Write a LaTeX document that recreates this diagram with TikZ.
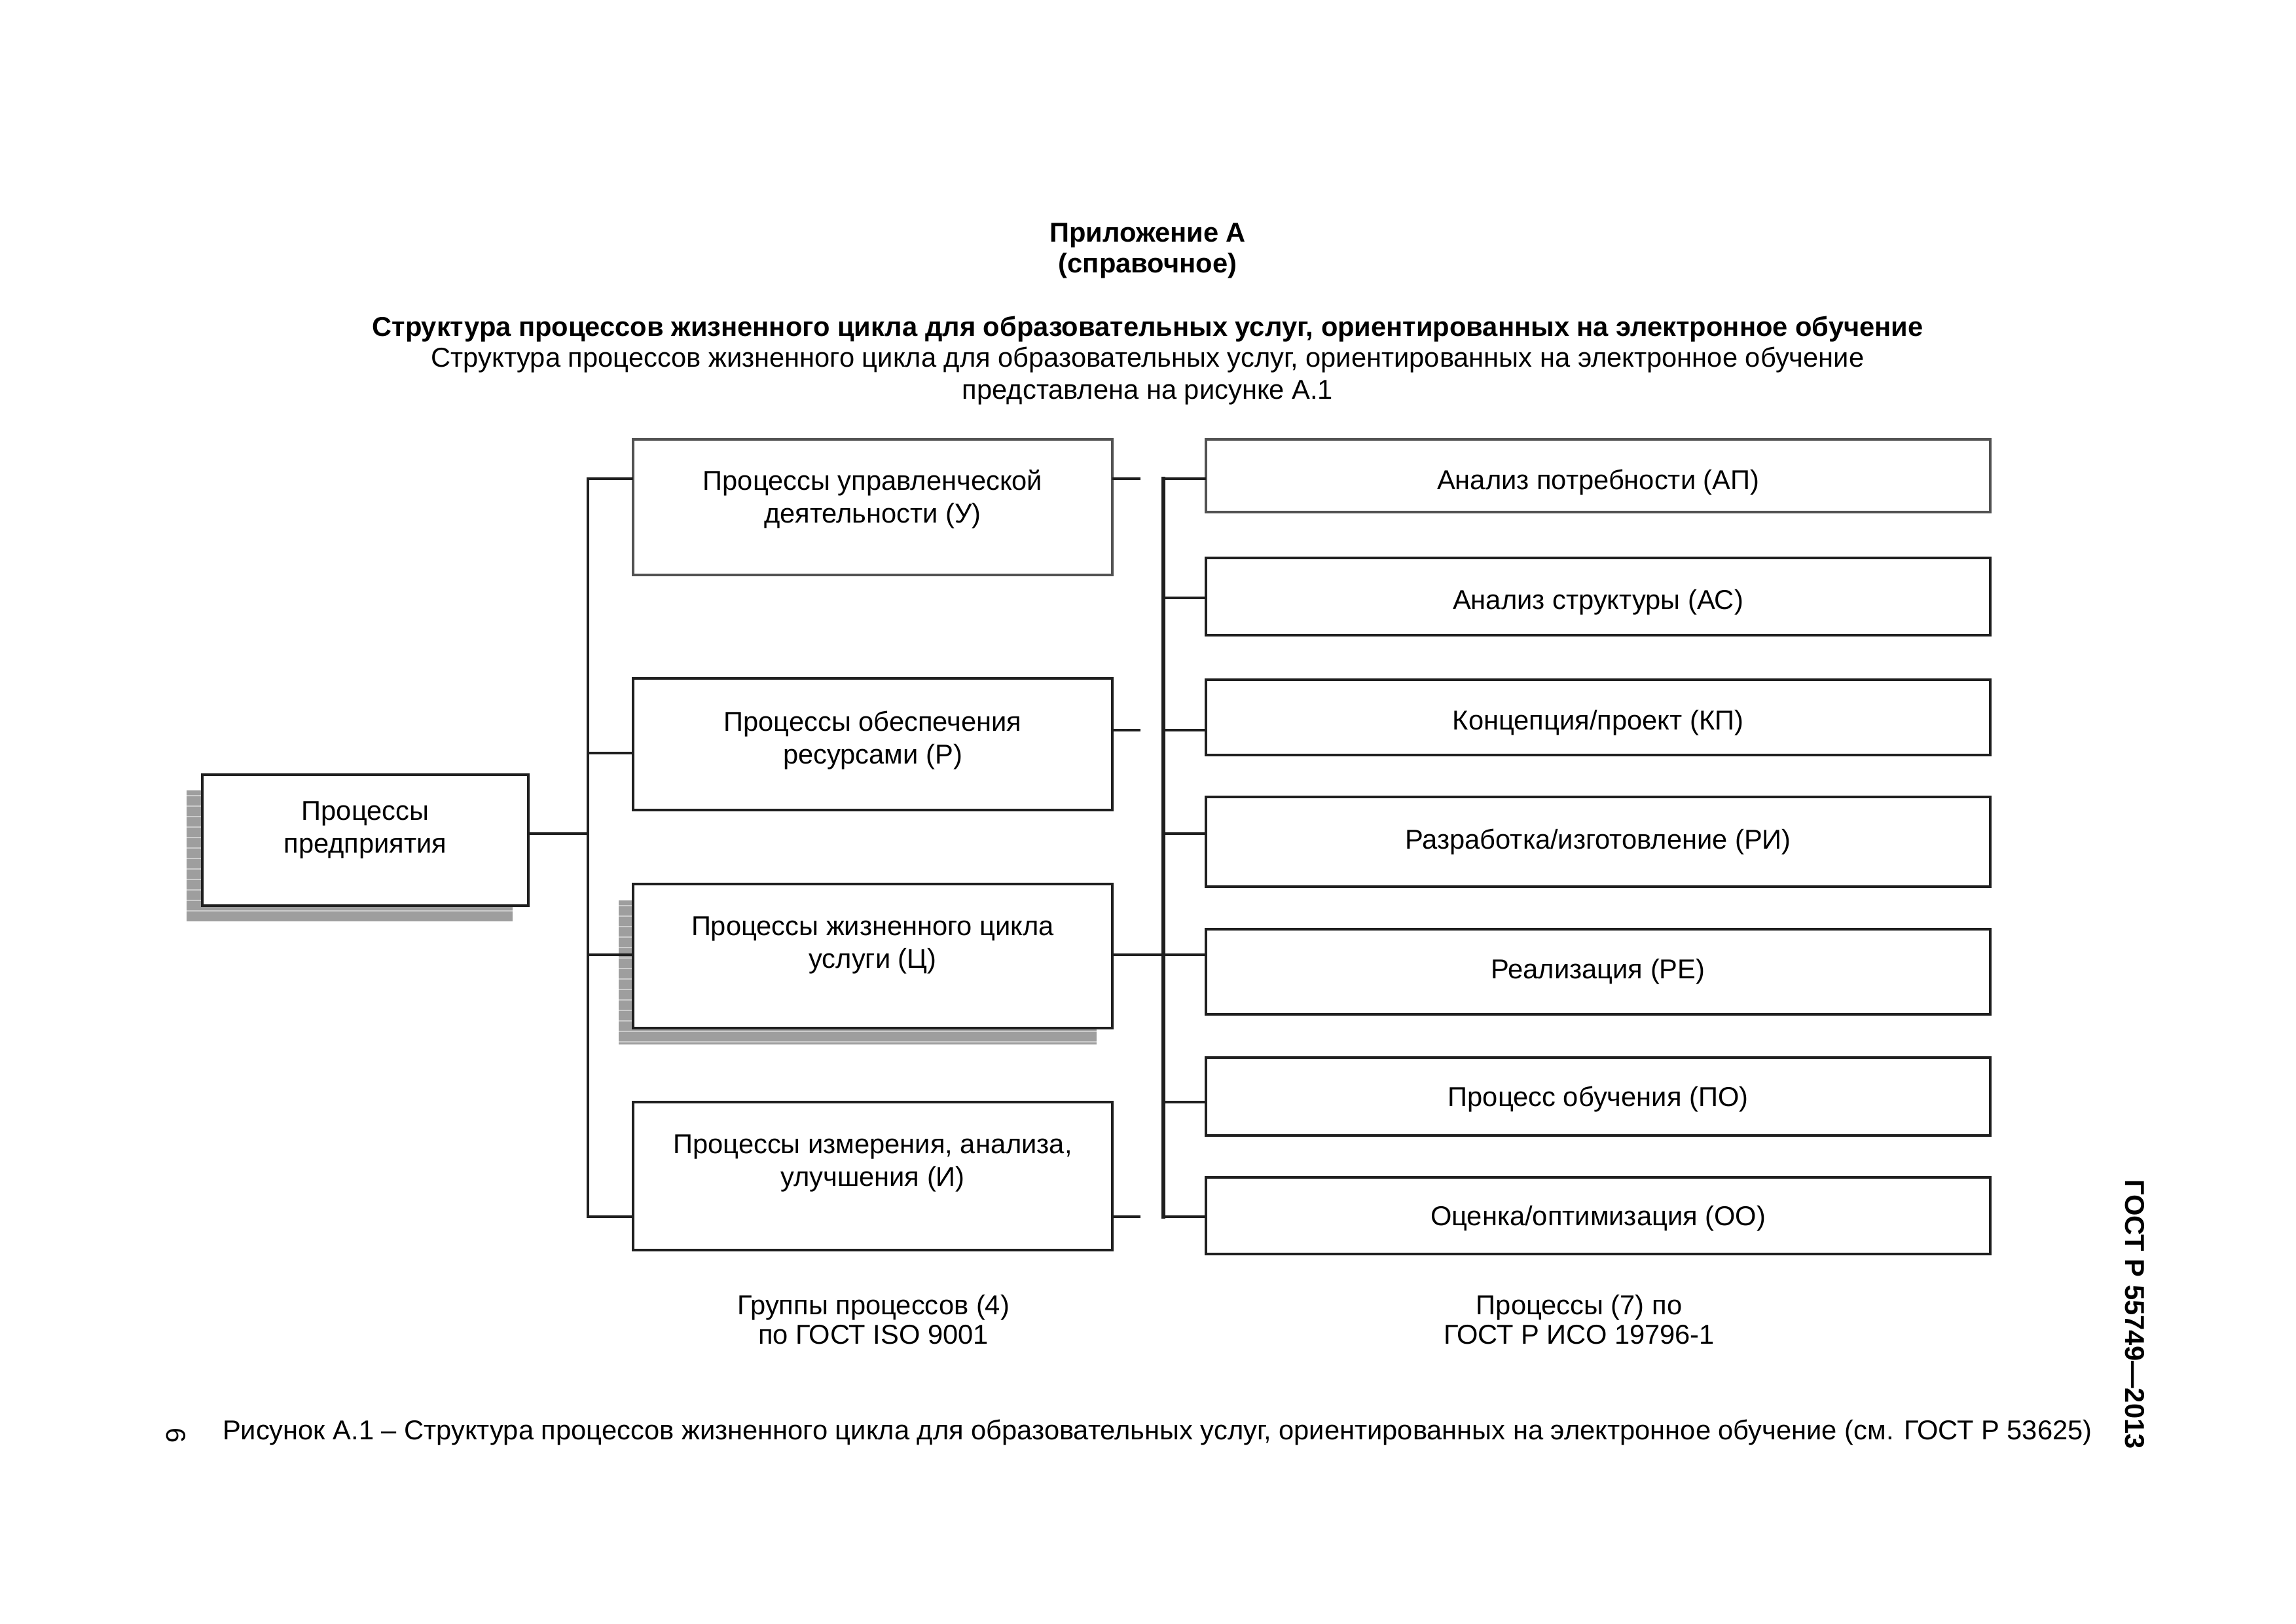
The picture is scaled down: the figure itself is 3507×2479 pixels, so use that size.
\documentclass[tikz,border=0pt]{standalone}
\usepackage{fontspec}
\setmainfont{Liberation Sans}
\begin{document}
\begin{tikzpicture}[x=0.24pt,y=-0.24pt,
  bx/.style={draw=black!88, line width=1pt, fill=white, inner sep=0pt, outer sep=0pt},
  gbx/.style={draw=black!68, line width=0.75pt, fill=white, inner sep=0pt, outer sep=0pt},
  txt/.style={font=\fontsize{10}{12}\selectfont, align=center, inner sep=0pt, outer sep=0pt},
  ttl/.style={font=\fontsize{10}{11.4}\selectfont, align=center, inner sep=0pt, outer sep=0pt},
  ln/.style={line width=0.9pt, draw=black!88},
  bus/.style={line width=1.3pt, draw=black!88, line cap=rect},
  shd/.style={fill=black!38, draw=none},
  shdl/.style={draw=black!20, line width=0.3pt},
  lbox/.style={minimum width=175.68pt},
  rbox/.style={minimum width=287.52pt}]
\useasboundingbox (0,0) rectangle (3507,2479);
\fill[white] (0,0) rectangle (3507,2479);

% titles
\node[ttl, font=\fontsize{10}{11.3}\selectfont\bfseries, anchor=north] (app) at (1753,341) {Приложение А\\(справочное)};
\node[ttl, font=\fontsize{10}{11.4}\selectfont\bfseries, anchor=base] (head) at (1753,513) {Структура процессов жизненного цикла для образовательных услуг, ориентированных на электронное обучение};
\node[ttl, font=\fontsize{10}{11.7}\selectfont, anchor=north] (desc) at (1753,530) {Структура процессов жизненного цикла для образовательных услуг, ориентированных на электронное обучение\\представлена на рисунке А.1};

% shadows
\fill[shd] (285,1207) rectangle (783,1407);
\foreach \yy in {1215,1231,...,1405} \draw[shdl] (285,\yy) -- (783,\yy);
\fill[shd] (945,1375) rectangle (1675,1595);
\foreach \yy in {1383,1399,...,1593} \draw[shdl] (945,\yy) -- (1675,\yy);

% boxes
\node[bx, minimum width=119.52pt, minimum height=48pt] (P) at (558,1283) {};
\node[txt, anchor=north] (tP) at (558,1224) {Процессы\\предприятия};

\node[gbx, lbox, minimum height=49.68pt] (U) at (1333,774.5) {};
\node[txt, anchor=north] (tU) at (1333,718) {Процессы управленческой\\деятельности (У)};
\node[bx, lbox, minimum height=48.24pt] (R) at (1333,1136.5) {};
\node[txt, anchor=north] (tR) at (1333,1086) {Процессы обеспечения\\ресурсами (Р)};
\node[bx, lbox, minimum height=52.8pt] (C) at (1333,1460) {};
\node[txt, anchor=north] (tC) at (1333,1400) {Процессы жизненного цикла\\услуги (Ц)};
\node[bx, lbox, minimum height=54.24pt] (I) at (1333,1796) {};
\node[txt, anchor=north] (tI) at (1333,1733) {Процессы измерения, анализа,\\улучшения (И)};

\node[gbx, rbox, minimum height=26.64pt] (AP) at (2441,726.5) {};
\node[txt] (tAP) at (2441,737) {Анализ потребности (АП)};
\node[bx, rbox, minimum height=28.32pt] (AS) at (2441,911) {};
\node[txt] (tAS) at (2441,920) {Анализ структуры (АС)};
\node[bx, rbox, minimum height=27.6pt] (KP) at (2441,1095.5) {};
\node[txt] (tKP) at (2441,1104) {Концепция/проект (КП)};
\node[bx, rbox, minimum height=32.88pt] (RI) at (2441,1285.5) {};
\node[txt] (tRI) at (2441,1286) {Разработка/изготовление (РИ)};
\node[bx, rbox, minimum height=31.2pt] (RE) at (2441,1484) {};
\node[txt] (tRE) at (2441,1484) {Реализация (РЕ)};
\node[bx, rbox, minimum height=28.56pt] (PO) at (2441,1674.5) {};
\node[txt] (tPO) at (2441,1679) {Процесс обучения (ПО)};
\node[bx, rbox, minimum height=28.08pt] (OO) at (2441,1856.5) {};
\node[txt] (tOO) at (2441,1861) {Оценка/оптимизация (ОО)};

% coordinates
\coordinate (LM) at (898,1273);
\coordinate (L1) at (898,731);
\coordinate (L2) at (898,1150);
\coordinate (L3) at (898,1458);
\coordinate (L4) at (898,1858);
\coordinate (S1) at (1742,731);
\coordinate (S2) at (1742,1115);
\coordinate (S4) at (1742,1858);
\coordinate (R1) at (1777,731);
\coordinate (R2) at (1777,913);
\coordinate (R3) at (1777,1115);
\coordinate (R4) at (1777,1273);
\coordinate (R5) at (1777,1458);
\coordinate (R6) at (1777,1683);
\coordinate (R7) at (1777,1858);

% connectors
\draw[ln] (P.east |- LM) -- (LM);
\draw[ln, line cap=rect] (L1) -- (L4);
\draw[ln] (L1) -- (U.west |- L1);
\draw[ln] (L2) -- (R.west |- L2);
\draw[ln] (L3) -- (C.west |- L3);
\draw[ln] (L4) -- (I.west |- L4);
\draw[ln] (U.east |- S1) -- (S1);
\draw[ln] (R.east |- S2) -- (S2);
\draw[ln] (I.east |- S4) -- (S4);
\draw[ln] (C.east |- R5) -- (RE.west |- R5);
\draw[bus] (R1) -- (R7);
\draw[ln] (R1) -- (AP.west |- R1);
\draw[ln] (R2) -- (AS.west |- R2);
\draw[ln] (R3) -- (KP.west |- R3);
\draw[ln] (R4) -- (RI.west |- R4);
\draw[ln] (R6) -- (PO.west |- R6);
\draw[ln] (R7) -- (OO.west |- R7);

% bottom labels
\node[ttl, font=\fontsize{10}{10.9}\selectfont, anchor=north] (g4) at (1334,1977) {Группы процессов (4)\\по ГОСТ ISO 9001};
\node[ttl, font=\fontsize{10}{10.9}\selectfont, anchor=north] (p7) at (2412,1977) {Процессы (7) по\\ГОСТ Р ИСО 19796-1};

% caption and page furniture
\node[ttl, anchor=base west] (cap) at (340,2198) {Рисунок А.1 – Структура процессов жизненного цикла для образовательных услуг, ориентированных на электронное обучение (см. ГОСТ Р 53625)};
\node[ttl, rotate=-90] (pg) at (269,2192) {6};
\node[ttl, font=\fontsize{10}{12}\selectfont\bfseries, rotate=-90] (gost) at (3261,2007) {ГОСТ Р 55749—2013};
\end{tikzpicture}
\end{document}
